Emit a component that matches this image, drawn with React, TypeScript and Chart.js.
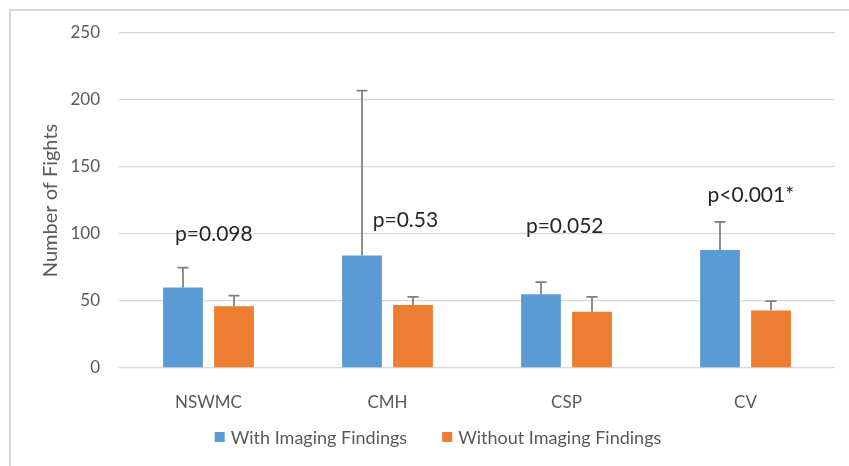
import React, { useEffect, useRef } from "react";
import { Chart, registerables } from "chart.js";

Chart.register(...registerables);

const categories = ["NSWMC", "CMH", "CSP", "CV"];
const seriesLabels = ["With Imaging Findings", "Without Imaging Findings"];
const withFindings = [60, 84, 55, 88];
const withoutFindings = [46, 47, 42, 43];
const withFindingsErr = [15, 123, 9, 21];
const withoutFindingsErr = [8, 6, 11, 7];
const pLabels = ["p=0.098", "p=0.53", "p=0.052", "p<0.001*"];
const pLabelIndex = [0.03, 1.1, 1.99, 3.03];
const pLabelValue = [100, 110, 106, 129];
const yTicks = [0, 50, 100, 150, 200, 250];

const BLUE = "#5B9BD5";
const ORANGE = "#ED7D31";
const TEXT = "#595959";
const GRID = "#D9D9D9";
const FONT = "Lato";

export default function App() {
  const ref = useRef<HTMLCanvasElement | null>(null);

  useEffect(() => {
    document.body.style.margin = "0";
    let chart: Chart | null = null;
    let cancelled = false;

    const extras = {
      id: "extras",
      afterDatasetsDraw(c: any) {
        const ctx = c.ctx;
        const y = c.scales.y;
        const x = c.scales.x;
        const errs = [withFindingsErr, withoutFindingsErr];
        ctx.save();
        ctx.strokeStyle = "#7F7F7F";
        ctx.lineWidth = 1.75;
        c.data.datasets.forEach((ds: any, di: number) => {
          const meta = c.getDatasetMeta(di);
          meta.data.forEach((bar: any, i: number) => {
            const v = ds.data[i];
            const top = y.getPixelForValue(v + errs[di][i]);
            const base = y.getPixelForValue(v);
            ctx.beginPath();
            ctx.moveTo(bar.x, base);
            ctx.lineTo(bar.x, top);
            ctx.moveTo(bar.x - 5.5, top);
            ctx.lineTo(bar.x + 5.5, top);
            ctx.stroke();
          });
        });
        // p-value annotations
        ctx.fillStyle = "#262626";
        ctx.font = `21px ${FONT}`;
        ctx.textAlign = "center";
        ctx.textBaseline = "middle";
        pLabels.forEach((t, i) => {
          const idx = pLabelIndex[i];
          const i0 = Math.floor(idx);
          const x0 = x.getPixelForValue(i0);
          const x1 = i0 + 1 < categories.length ? x.getPixelForValue(i0 + 1) : x0 + (x0 - x.getPixelForValue(i0 - 1));
          const px = x0 + (x1 - x0) * (idx - i0);
          ctx.fillText(t, px, y.getPixelForValue(pLabelValue[i]));
        });
        // legend
        ctx.font = `18px ${FONT}`;
        ctx.textAlign = "left";
        const colors = [BLUE, ORANGE];
        const widths = seriesLabels.map((s) => ctx.measureText(s).width);
        const box = 10, gap = 6, spacing = 35;
        const total = widths.reduce((a, w) => a + box + gap + w, 0) + spacing;
        let lx = 438 - total / 2;
        const ly = 437;
        seriesLabels.forEach((s, i) => {
          ctx.fillStyle = colors[i];
          ctx.fillRect(lx, ly - box / 2, box, box);
          ctx.fillStyle = TEXT;
          ctx.fillText(s, lx + box + gap, ly + 1);
          lx += box + gap + widths[i] + spacing;
        });
        ctx.restore();
      },
    };

    const build = () => {
      if (cancelled || !ref.current) return;
      chart = new Chart(ref.current, {
        type: "bar",
        data: {
          labels: categories,
          datasets: [
            { label: seriesLabels[0], data: withFindings, backgroundColor: BLUE },
            { label: seriesLabels[1], data: withoutFindings, backgroundColor: ORANGE },
          ],
        },
        options: {
          responsive: false,
          animation: false,
          devicePixelRatio: 1,
          layout: { padding: { left: 0, top: 33, right: 14, bottom: 0 } },
          datasets: { bar: { categoryPercentage: 0.57, barPercentage: 0.78 } } as any,
          plugins: { legend: { display: false }, tooltip: { enabled: false } },
          scales: {
            x: {
              grid: { display: false },
              border: { display: false },
              ticks: { color: TEXT, font: { family: FONT, size: 17 }, padding: 16 },
              afterFit(s: any) {
                s.height = 98;
              },
            },
            y: {
              min: 0,
              max: 250,
              afterBuildTicks(s: any) {
                s.ticks = yTicks.map((v) => ({ value: v }));
              },
              grid: { color: GRID, lineWidth: 1.3, drawTicks: false },
              border: { display: false },
              ticks: { color: TEXT, font: { family: FONT, size: 17 }, padding: 19 },
              title: {
                display: true,
                text: "Number of Fights",
                color: TEXT,
                font: { family: FONT, size: 20 },
                padding: { top: 39, bottom: 0 },
              },
              afterFit(s: any) {
                s.width = 119;
              },
            },
          },
        },
        plugins: [extras],
      });
    };

    const fonts = (document as any).fonts;
    if (fonts && fonts.load) {
      Promise.all([fonts.load(`16px ${FONT}`), fonts.load(`21px ${FONT}`)])
        .catch(() => null)
        .then(build);
    } else build();

    return () => {
      cancelled = true;
      if (chart) chart.destroy();
    };
  }, []);

  return (
    <div style={{ position: "relative", width: 849, height: 466, background: "#fff" }}>
      <div
        style={{
          position: "absolute",
          left: 9,
          top: 9,
          right: 0,
          bottom: 0,
          borderTop: `2px solid ${GRID}`,
          borderLeft: `2px solid ${GRID}`,
        }}
      />
      <canvas ref={ref} width={849} height={466} style={{ position: "absolute", left: 0, top: 0 }} />
    </div>
  );
}
